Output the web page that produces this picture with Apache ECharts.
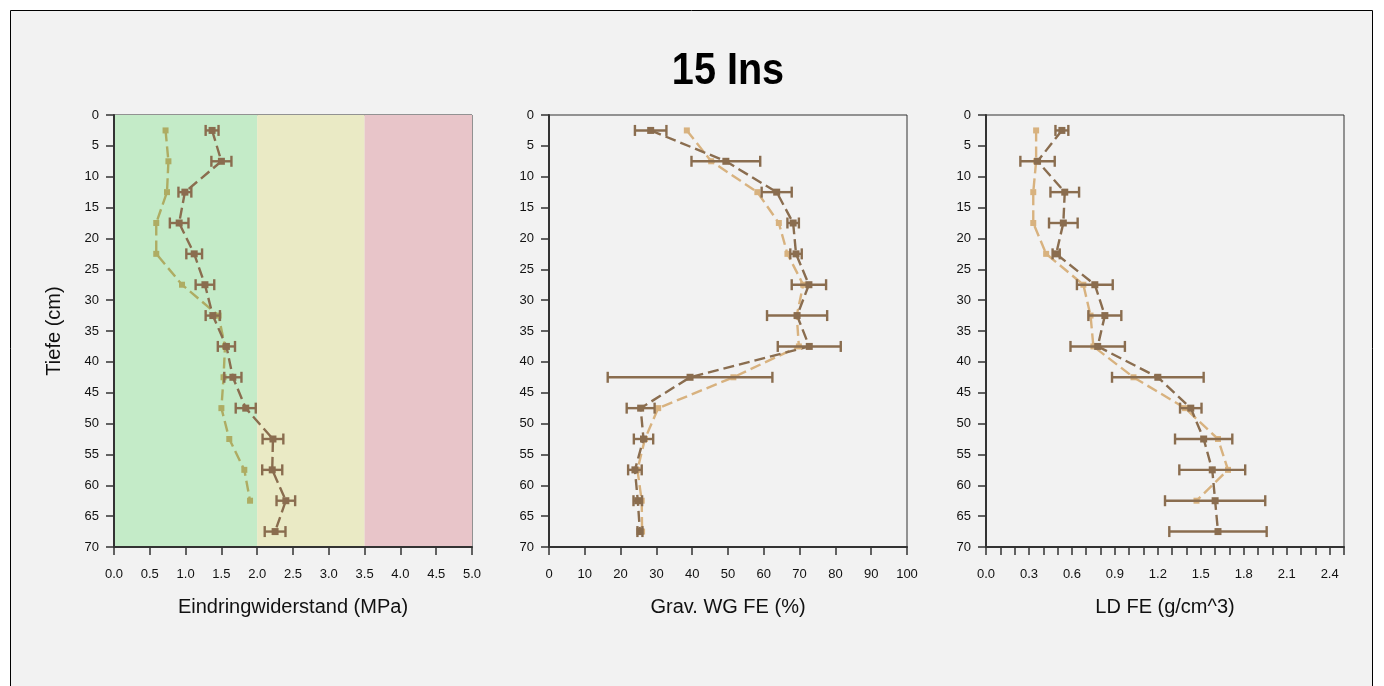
<!DOCTYPE html>
<html>
<head>
<meta charset="utf-8">
<script src="https://cdn.jsdelivr.net/npm/echarts@6/dist/echarts.min.js"></script>
<style>
  html, body { margin: 0; padding: 0; background: #ffffff; }
  #chart { width: 1384px; height: 686px; }
</style>
</head>
<body>
<div id="chart"></div>
<script>
// Sampling depths (cm), midpoints of 5 cm layers
const depths = [2.5, 7.5, 12.5, 17.5, 22.5, 27.5, 32.5, 37.5, 42.5, 47.5, 52.5, 57.5, 62.5, 67.5];

// Penetration resistance (MPa)
const eindMean = [1.37, 1.50, 0.99, 0.91, 1.12, 1.27, 1.38, 1.57, 1.66, 1.84, 2.22, 2.21, 2.40, 2.25];
const eindErr  = [0.09, 0.14, 0.09, 0.13, 0.11, 0.13, 0.10, 0.12, 0.12, 0.14, 0.145, 0.14, 0.13, 0.145];
const eindRef  = [0.72, 0.76, 0.74, 0.59, 0.59, 0.95, 1.46, 1.55, 1.53, 1.50, 1.61, 1.82, 1.90, null];
// Resistance class boundaries (MPa)
const zoneBounds = [0, 2, 3.5, 5];

// Gravimetric water content (%)
const wgMean = [28.4, 49.4, 63.6, 68.2, 69.0, 72.6, 69.3, 72.7, 39.4, 25.6, 26.4, 24.0, 24.8, 25.4];
const wgErr  = [4.4, 9.6, 4.2, 1.6, 1.6, 4.8, 8.4, 8.8, 23.0, 3.9, 2.7, 1.9, 1.2, 0.7];
const wgRef  = [38.5, 45.3, 58.2, 64.2, 66.6, 71.0, 69.2, 69.8, 51.5, 30.5, 26.8, 24.7, 25.9, 26.0];

// Bulk density (g/cm^3)
const ldMean = [0.53, 0.36, 0.55, 0.54, 0.49, 0.76, 0.83, 0.78, 1.20, 1.43, 1.52, 1.58, 1.60, 1.62];
const ldErr  = [0.045, 0.12, 0.10, 0.10, 0.025, 0.125, 0.115, 0.19, 0.32, 0.075, 0.20, 0.23, 0.35, 0.34];
const ldRef  = [0.35, 0.35, 0.33, 0.33, 0.42, 0.68, 0.73, 0.75, 1.03, 1.39, 1.62, 1.69, 1.47, null];

const titleText = '15 Ins';
const xNames = ['Eindringwiderstand (MPa)', 'Grav. WG FE (%)', 'LD FE (g/cm^3)'];
const yName = 'Tiefe (cm)';

const DARK = '#8a6d4f';
const TAN = '#d8b27f';
const OLIVE = '#aeac63';
const ZONE_COLORS = ['#c4ebc8', '#eaeac5', '#e8c5c9'];
const AXIS = '#333333';
const TEXT = '#111111';
const FONT = '"Liberation Sans", Arial, sans-serif';

function pts(vals) {
  const out = [];
  vals.forEach((v, i) => { if (v !== null) out.push([v, depths[i]]); });
  return out;
}
function errData(mean, err) {
  return mean.map((m, i) => [m - err[i], m + err[i], depths[i]]);
}

function errorBars(idx, mean, err) {
  return {
    type: 'custom',
    xAxisIndex: idx, yAxisIndex: idx,
    data: errData(mean, err),
    encode: { x: [0, 1], y: 2 },
    z: 4,
    silent: true,
    renderItem: function (params, api) {
      const a = api.coord([api.value(0), api.value(2)]);
      const b = api.coord([api.value(1), api.value(2)]);
      const h = 5.5;
      const style = { stroke: DARK, lineWidth: 2.4, fill: null };
      return {
        type: 'group',
        children: [
          { type: 'line', shape: { x1: a[0], y1: a[1], x2: b[0], y2: b[1] }, style: style },
          { type: 'line', shape: { x1: a[0], y1: a[1] - h, x2: a[0], y2: a[1] + h }, style: style },
          { type: 'line', shape: { x1: b[0], y1: b[1] - h, x2: b[0], y2: b[1] + h }, style: style }
        ]
      };
    }
  };
}

function profileLine(idx, vals, color, size, extra) {
  return Object.assign({
    type: 'line',
    xAxisIndex: idx, yAxisIndex: idx,
    data: pts(vals),
    symbol: 'rect',
    symbolSize: size,
    showSymbol: true,
    itemStyle: { color: color },
    lineStyle: { color: color, width: 2.4, type: [11, 5] },
    z: 3,
    silent: true,
    animation: false
  }, extra || {});
}

const grids = [
  { left: 114, right: 912, top: 115, bottom: 139 },
  { left: 549, right: 477, top: 115, bottom: 139 },
  { left: 986, right: 40, top: 115, bottom: 139 }
].map(g => Object.assign({ show: true, borderColor: AXIS, borderWidth: 1, backgroundColor: 'transparent' }, g));

const axisCommon = {
  axisLine: { show: true, onZero: false, lineStyle: { color: AXIS, width: 2 } },
  axisTick: { show: true, inside: false, length: 8, lineStyle: { color: AXIS, width: 1.5 } },
  splitLine: { show: false },
  axisLabel: { color: TEXT, fontFamily: FONT, fontSize: 13 }
};

function xAxis(idx, min, max, interval, fmt) {
  return Object.assign({}, axisCommon, {
    type: 'value', gridIndex: idx, position: 'bottom',
    min: min, max: max, interval: interval,
    name: xNames[idx], nameLocation: 'middle', nameGap: 50,
    nameTextStyle: { color: TEXT, fontFamily: FONT, fontSize: 20 },
    axisLabel: Object.assign({}, axisCommon.axisLabel, { margin: 21, formatter: fmt, showMinLabel: true, showMaxLabel: true })
  });
}

function yAxis(idx) {
  return Object.assign({}, axisCommon, {
    type: 'value', gridIndex: idx, inverse: true,
    min: 0, max: 70, interval: 5,
    name: idx === 0 ? yName : '', nameLocation: 'middle', nameGap: 50,
    nameTextStyle: { color: TEXT, fontFamily: FONT, fontSize: 20 },
    axisLabel: Object.assign({}, axisCommon.axisLabel, { margin: 15 })
  });
}

const ldFmt = v => {
  const k = v / 0.3;
  return Math.abs(k - Math.round(k)) < 1e-6 ? v.toFixed(1) : '';
};

const zoneAreas = ZONE_COLORS.map((c, i) => [
  { xAxis: zoneBounds[i], itemStyle: { color: c, opacity: 1 } },
  { xAxis: zoneBounds[i + 1] }
]);

const option = {
  animation: false,
  backgroundColor: '#ffffff',
  graphic: [{
    type: 'rect', z: -10, silent: true,
    shape: { x: 10.5, y: 10.5, width: 1362, height: 700 },
    style: { fill: '#f2f2f2', stroke: '#000000', lineWidth: 1 }
  }, {
    type: 'text', x: 728, y: 72, scaleX: 0.9, silent: true,
    style: {
      text: titleText, fill: '#000000',
      font: 'bold 44px "Liberation Sans", Arial, sans-serif',
      textAlign: 'center', textVerticalAlign: 'middle'
    }
  }],
  grid: grids,
  xAxis: [
    xAxis(0, 0, 5, 0.5, v => v.toFixed(1)),
    xAxis(1, 0, 100, 10, v => String(v)),
    xAxis(2, 0, 2.5, 0.1, ldFmt)
  ],
  yAxis: [yAxis(0), yAxis(1), yAxis(2)],
  series: [
    profileLine(0, eindRef, OLIVE, 6, {
      markArea: { silent: true, z: 0, data: zoneAreas }
    }),
    profileLine(0, eindMean, DARK, 7),
    errorBars(0, eindMean, eindErr),

    profileLine(1, wgRef, TAN, 6),
    profileLine(1, wgMean, DARK, 7),
    errorBars(1, wgMean, wgErr),

    profileLine(2, ldRef, TAN, 6),
    profileLine(2, ldMean, DARK, 7),
    errorBars(2, ldMean, ldErr)
  ]
};

const chart = echarts.init(document.getElementById('chart'), null, { renderer: 'canvas' });
chart.setOption(option);
</script>
</body>
</html>
